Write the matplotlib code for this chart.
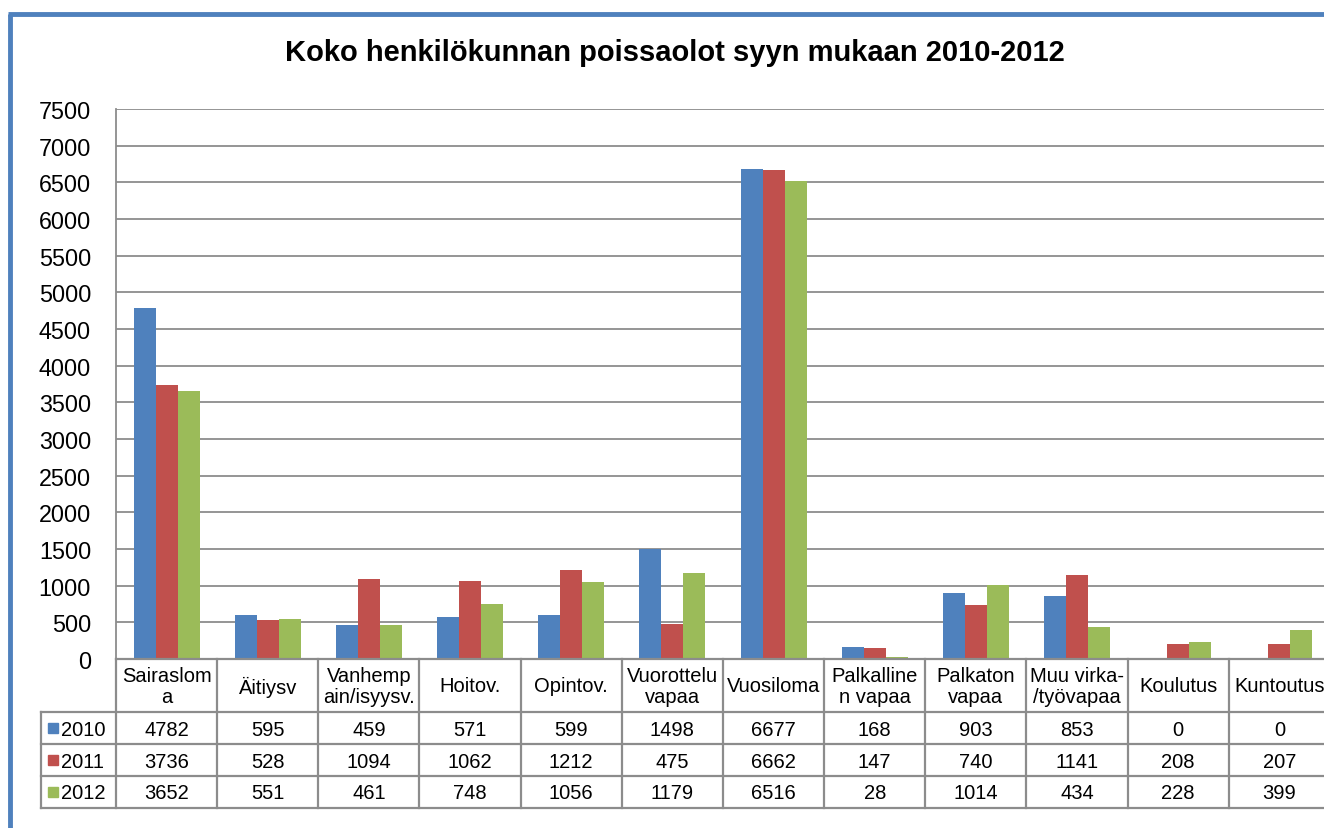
import matplotlib
matplotlib.use("Agg")
import matplotlib.pyplot as plt
from matplotlib.patches import Rectangle

plt.rcParams['font.family'] = ['Liberation Sans', 'DejaVu Sans']

title = "Koko henkilökunnan poissaolot syyn mukaan 2010-2012"
categories = ["Sairaslom\na", "Äitiysv", "Vanhemp\nain/isyysv.", "Hoitov.", "Opintov.",
              "Vuorottelu\nvapaa", "Vuosiloma", "Palkalline\nn vapaa", "Palkaton\nvapaa",
              "Muu virka-\n/työvapaa", "Koulutus", "Kuntoutus"]
series_names = ["2010", "2011", "2012"]
v2010 = [4782, 595, 459, 571, 599, 1498, 6677, 168, 903, 853, 0, 0]
v2011 = [3736, 528, 1094, 1062, 1212, 475, 6662, 147, 740, 1141, 208, 207]
v2012 = [3652, 551, 461, 748, 1056, 1179, 6516, 28, 1014, 434, 228, 399]
series_values = [v2010, v2011, v2012]
colors = ["#4F81BD", "#C0504D", "#9BBB59"]
yticks = list(range(0, 7501, 500))

W, H = 1324, 829
fig = plt.figure(figsize=(W / 100, H / 100), dpi=100)
fig.patch.set_facecolor("white")

# main plot axes (extends slightly past right edge as in reference)
pl, pr, pt, pb = 116, 1330, 110, 660
ax = fig.add_axes([pl / W, (H - pb) / H, (pr - pl) / W, (pb - pt) / H])
n = len(categories)
bw = 0.217
for k, (vals, c) in enumerate(zip(series_values, colors)):
    xs = [i + (k - 1) * bw for i in range(n)]
    ax.bar(xs, vals, width=bw, color=c, edgecolor="none", zorder=3)
ax.set_xlim(-0.5, n - 0.5)
ax.set_ylim(0, 7500)
ax.set_yticks(yticks)
ax.set_yticklabels([str(t) for t in yticks], fontsize=16.8)
ax.tick_params(axis="y", length=0, pad=18)
ax.set_xticks([])
ax.grid(axis="y", color="#8c8c8c", linewidth=1.3, zorder=0)
for s in ["top", "right", "bottom"]:
    ax.spines[s].set_visible(False)
ax.spines["left"].set_color("#8c8c8c")
ax.spines["left"].set_linewidth(1.3)

# overlay axes in pixel coordinates for table, title and border
ov = fig.add_axes([0, 0, 1, 1], zorder=5)
ov.set_xlim(0, W)
ov.set_ylim(H, 0)
ov.axis("off")
ov.patch.set_alpha(0)

fig.canvas.draw()
def xpx(xd):
    return ax.transData.transform((xd, 0))[0]

bounds = [xpx(i - 0.5) for i in range(n + 1)]
gc = "#8c8c8c"
lw = 1.6
row_y = [660, 713, 745, 777, 809]
leg_left = 41
# horizontal lines
ov.plot([bounds[0], bounds[-1]], [660, 660], color=gc, lw=lw, clip_on=False)
for y in row_y[1:]:
    ov.plot([leg_left, bounds[-1]], [y, y], color=gc, lw=lw, clip_on=False)
# vertical lines
for b in bounds:
    ov.plot([b, b], [660, 809], color=gc, lw=lw, clip_on=False)
ov.plot([leg_left, leg_left], [713, 809], color=gc, lw=lw, clip_on=False)

tfs = 14.5
for i, cat in enumerate(categories):
    cx = (bounds[i] + bounds[i + 1]) / 2
    ov.text(cx, 687, cat, ha="center", va="center", fontsize=tfs, linespacing=1.15)
    for r, vals in enumerate(series_values):
        cy = (row_y[r + 1] + row_y[r + 2]) / 2
        ov.text(cx, cy + 1, str(vals[i]), ha="center", va="center", fontsize=tfs)

for r, (name, c) in enumerate(zip(series_names, colors)):
    cy = (row_y[r + 1] + row_y[r + 2]) / 2
    ov.add_patch(Rectangle((48, cy - 5), 10, 10, color=c))
    ov.text(61, cy + 1, name, ha="left", va="center", fontsize=tfs)

ov.text(675, 53, title, ha="center", va="center", fontsize=21, fontweight="bold")

# outer chart border (blue)
bc = "#4F81BD"
ov.plot([10, 10], [15, H + 5], color=bc, lw=3.5, clip_on=False, solid_capstyle="butt")
ov.plot([8, W + 5], [15, 15], color=bc, lw=3.5, clip_on=False, solid_capstyle="butt")

fig.savefig("out.png", dpi=100)
